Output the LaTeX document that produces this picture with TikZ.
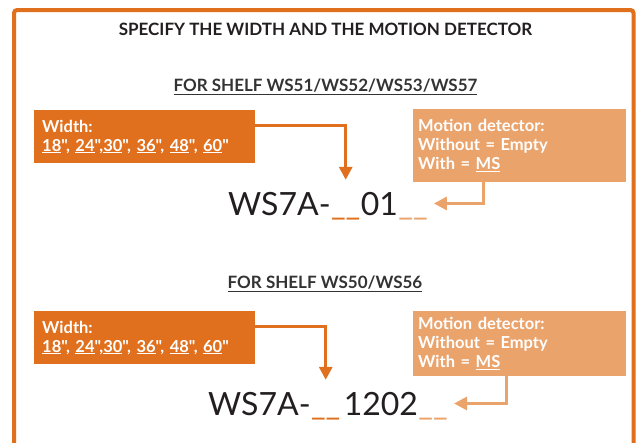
\documentclass[tikz,border=0pt]{standalone}
\usepackage{fontspec}
\setmainfont{Lato}[Ligatures=TeXOff]
\usetikzlibrary{arrows.meta}
\definecolor{dor}{HTML}{E0701E}
\definecolor{lor}{HTML}{EBA36C}
\definecolor{ink}{HTML}{231F20}
\definecolor{subc}{HTML}{333333}
\newcommand\myul[1]{\underline{#1}}
\tikzset{
  boxtext/.style={text=white, font=\fontsize{16.5}{19}\selectfont\bfseries, anchor=north west, align=left, inner sep=0pt},
  wbox/.style={boxtext, fill=dor, minimum width=221pt, minimum height=53pt, text width=205pt, inner xsep=8pt},
  mbox/.style={boxtext, fill=lor, minimum width=213pt, text width=203pt, inner xsep=5pt},
  codetext/.style={font=\fontsize{32}{38}\selectfont, text=ink, inner sep=0pt, anchor=base west, text height=23pt, text depth=0pt},
  titletext/.style={font=\fontsize{17}{20}\selectfont\bfseries, text=ink, inner sep=0pt},
  subtext/.style={font=\fontsize{17}{20}\selectfont\bfseries, text=subc, inner sep=0pt},
  darr/.style={draw=dor, line width=3pt, -{Triangle[length=13pt,width=13pt]}},
  larr/.style={draw=lor, line width=3pt, -{Triangle[length=13pt,width=13pt]}},
}
\begin{document}
\begin{tikzpicture}[x=1pt,y=-1pt]
\useasboundingbox (0,0) rectangle (637,442);
\fill[white] (0,0) rectangle (637,442);
\clip (0,0) rectangle (637,442);
\draw[dor, line width=4pt, rounded corners=3pt] (14,470) -- (14,10) -- (633.5,10) -- (633.5,470);

\node[titletext] (title) at (325.5,29) {SPECIFY THE WIDTH AND THE MOTION DETECTOR};

% section 1
\node[subtext] (s1) at (325.5,87) {\myul{FOR SHELF WS51/WS52/WS53/WS57}};
\node[wbox] (w1) at (34,110) {Width:\\\myul{18}", \myul{24}",\myul{30}", \myul{36}", \myul{48}", \myul{60}"};
\node[mbox, minimum height=73pt] (m1) at (413,109) {Motion detector:\\Without = Empty\\With = \myul{MS}};
\node[codetext] (a1) at (228,215) {WS7A-};
\node[codetext, text=dor] (u1) at (a1.base east) {\_\_};
\node[codetext] (n1) at (u1.base east) {01};
\node[codetext, text=lor] (v1) at (n1.base east) {\_\_};
\draw[darr] ([yshift=-15pt]w1.north east) -| ([yshift=12pt]u1.north);
\draw[larr] ([xshift=-36.5pt]m1.south) |- ([xshift=6pt]v1.east);

% section 2
\node[subtext] (s2) at (325,284) {\myul{FOR SHELF WS50/WS56}};
\node[wbox] (w2) at (34,311) {Width:\\\myul{18}", \myul{24}",\myul{30}", \myul{36}", \myul{48}", \myul{60}"};
\node[mbox, minimum height=65pt] (m2) at (413,311) {Motion detector:\\Without = Empty\\With = \myul{MS}};
\node[codetext] (a2) at (208,415) {WS7A-};
\node[codetext, text=dor] (u2) at (a2.base east) {\_\_};
\node[codetext] (n2) at ([xshift=3pt]u2.base east) {1202};
\node[codetext, text=lor] (v2) at (n2.base east) {\_\_};
\draw[darr] ([yshift=-15pt]w2.north east) -| ([yshift=12pt]u2.north);
\draw[larr] ([xshift=-13.5pt]m2.south) |- ([xshift=6pt]v2.east);
\end{tikzpicture}
\end{document}
